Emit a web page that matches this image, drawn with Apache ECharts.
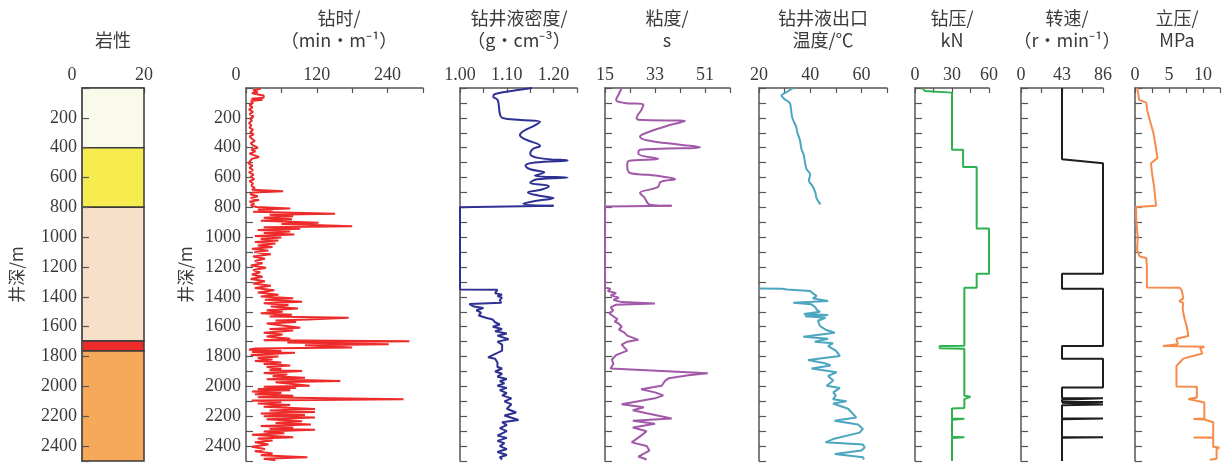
<!DOCTYPE html>
<html><head><meta charset="utf-8">
<script src="https://cdn.jsdelivr.net/npm/echarts@6.0.0/dist/echarts.min.js"></script>
<style>html,body{margin:0;padding:0;background:#fff}#c{width:1224px;height:465px}</style>
</head><body><div id="c"></div>
<script>
// ---------------- data ----------------
const depthTicks = [200,400,600,800,1000,1200,1400,1600,1800,2000,2200,2400];
const lithTicks = [0,20];
const ropTicks = [0,120,240];
const densTicks = [1.00,1.10,1.20];
const viscTicks = [15,33,51];
const tempTicks = [20,40,60];
const wobTicks = [0,30,60];
const rpmTicks = [0,43,86];
const sppTicks = [0,5,10];

const lithTop = [0,400,800,1695,1762];
const lithBottom = [400,800,1695,1762,2500];

// [value, depth]
const ropData = [
[25,5],[12,15],[20,25],[10,35],[30,50],[27,58],[30,66],[9,72],[28,78],[8,88],[12,100],[6,115],[11,130],[5,145],[12,160],[6,175],[13,190],[7,205],[10,220],[5,235],[9,250],[6,265],[12,280],[7,295],[13,310],[6,325],[10,340],[15,355],[8,370],[12,385],[20,400],[9,412],[16,425],[6,440],[22,462],[10,475],[7,490],[4,505],[11,520],[6,535],[12,550],[5,565],[13,580],[8,595],[14,610],[6,625],[12,640],[9,655],[15,670],[10,682],[63,692],[12,700],[7,712],[20,725],[8,738],[22,750],[6,762],[14,775],[8,788],[18,798],
[75,808],[20,815],[45,822],[12,830],[151,842],[40,850],[80,860],[30,870],[78,880],[25,890],[123,903],[60,912],[180,927],[30,934],[92,944],[20,952],[75,962],[30,972],[82,982],[15,992],[60,1002],[25,1012],[55,1022],[15,1032],[50,1042],[20,1055],[45,1065],[10,1077],[38,1090],[14,1100],[42,1115],[12,1130],[32,1145],[15,1160],[28,1175],[8,1190],[34,1205],[12,1220],[24,1235],[10,1250],[28,1265],[8,1280],[32,1295],[12,1310],[42,1325],[15,1340],[48,1355],[20,1370],[55,1385],[25,1398],
[80,1410],[32,1420],[95,1432],[30,1442],[72,1455],[42,1465],[88,1478],[35,1490],[62,1500],[25,1510],[78,1520],[40,1532],[174,1540],[105,1551],[50,1558],[85,1568],[35,1578],[92,1607],[40,1615],[80,1625],[30,1640],[62,1652],[35,1665],[75,1680],[30,1690],[277,1697],[70,1706],[242,1717],[100,1724],[180,1740],[15,1746],
[5,1755],[60,1762],[10,1770],[83,1775],[8,1790],[55,1800],[20,1810],[45,1820],[15,1830],[60,1840],[30,1850],[75,1860],[35,1870],[60,1882],[40,1890],[95,1897],[30,1910],[70,1920],[45,1932],[100,1942],[35,1952],[160,1963],[50,1972],[108,1996],[30,2002],[85,2010],[20,2018],[75,2026],[10,2035],[60,2044],[15,2052],[80,2062],[20,2072],[267,2086],[10,2094],[60,2104],[20,2114],[75,2124],[30,2136],[117,2152],[40,2162],[117,2172],[25,2182],[100,2192],[30,2200],[117,2208],[35,2220],[95,2234],[50,2245],[110,2256],[25,2266],[80,2276],[40,2285],[117,2290],[30,2302],[65,2314],[10,2324],[80,2340],[20,2350],[45,2362],[15,2375],[38,2390],[10,2405],[32,2420],[15,2435],[45,2450],[25,2462],[104,2475],[30,2485],[50,2495]
];

const densUpper = [[1.154,0],[1.12,15],[1.075,40],[1.071,58],[1.08,78],[1.083,120],[1.085,170],[1.09,200],[1.13,214],[1.171,226],[1.16,250],[1.135,290],[1.128,315],[1.14,345],[1.171,388],[1.155,410],[1.15,440],[1.17,470],[1.23,486],[1.16,500],[1.14,520],[1.15,545],[1.18,565],[1.16,588],[1.23,600],[1.165,612],[1.15,635],[1.19,658],[1.175,680],[1.145,700],[1.17,722],[1.20,738],[1.16,758],[1.135,775],[1.20,790]];
const densLower = [[1.20,790],[1.00,800],[1.00,1350],[1.08,1352],[1.082,1360],[1.075,1375],[1.09,1385],[1.08,1395],[1.09,1405],[1.085,1420],[1.088,1440],[1.02,1448],[1.03,1465],[1.05,1475],[1.035,1490],[1.045,1505],[1.04,1525],[1.055,1540],[1.07,1552],[1.075,1570],[1.085,1585],[1.07,1600],[1.09,1615],[1.075,1630],[1.10,1645],[1.08,1660],[1.104,1684],[1.08,1700],[1.09,1720],[1.09,1760],[1.06,1805],[1.075,1815],[1.08,1840],[1.08,1870],[1.09,1880],[1.075,1900],[1.09,1915],[1.08,1935],[1.10,1950],[1.085,1965],[1.095,1980],[1.08,1995],[1.10,2010],[1.085,2025],[1.10,2045],[1.09,2060],[1.11,2080],[1.095,2100],[1.11,2120],[1.10,2150],[1.12,2175],[1.095,2195],[1.11,2210],[1.125,2225],[1.09,2240],[1.10,2260],[1.085,2280],[1.10,2300],[1.08,2330],[1.10,2345],[1.08,2365],[1.095,2380],[1.085,2400],[1.10,2420],[1.08,2440],[1.10,2460],[1.085,2475],[1.09,2490]];

const viscUpper = [[21,0],[20,40],[19,80],[22,100],[28.8,112],[28,150],[26.4,200],[27,213],[43.8,222],[38,250],[30,300],[27.6,325],[30,350],[42,380],[49.2,397],[35,407],[27.6,414],[27,440],[34.2,475],[23.4,490],[23,520],[24,570],[30.6,582],[36,595],[40.2,611],[35,630],[34,665],[27.6,704],[29,730],[31.2,782],[39,790]];
const viscLower = [[39,790],[15,795],[15,1338],[17,1345],[16,1360],[19,1375],[17,1390],[20,1405],[18,1420],[21,1435],[33,1445],[19,1452],[17,1470],[18,1490],[16.5,1510],[18,1530],[19.5,1550],[18.5,1565],[20,1580],[21,1600],[20,1620],[22,1640],[23,1660],[27,1688],[23,1700],[21,1720],[22,1740],[23,1760],[19,1790],[17.5,1820],[18,1850],[17,1880],[28,1890],[52,1912],[45,1925],[38,1945],[36.6,1963],[35.4,1996],[28,2019],[33,2040],[36,2060],[33,2080],[21,2119],[29,2140],[25,2160],[30,2180],[39,2215],[25,2230],[33,2250],[25,2275],[30,2300],[28,2330],[24.6,2375],[30,2400],[31,2430],[27,2470],[30,2490]];

const tempUpper = [[33.4,0],[31,25],[28.8,50],[30,75],[32,100],[32.5,140],[33,200],[34.5,260],[35,300],[36,350],[36.6,410],[37.5,450],[38,500],[38.5,540],[40,580],[39.5,620],[41,660],[42,700],[42.5,740],[44,780]];
const tempLower = [[20,1344],[29,1345],[31,1350],[40,1360],[41,1375],[42.5,1395],[41,1410],[47,1428],[33.4,1440],[40.5,1450],[42,1470],[42.5,1485],[43.8,1500],[37.5,1515],[47,1522],[38,1530],[46,1540],[43,1560],[43.8,1595],[46,1620],[49.6,1640],[37.3,1667],[47,1680],[41.8,1700],[48.9,1710],[47,1730],[50,1760],[51.6,1796],[39.2,1823],[45.7,1845],[48,1860],[40.5,1880],[50.3,1905],[47,1930],[49,1960],[46.4,1996],[51.6,2010],[49,2040],[50,2060],[48.9,2086],[54.2,2100],[48.9,2115],[54.8,2150],[58,2208],[49.5,2230],[58.7,2255],[60.6,2285],[59.3,2310],[48.9,2353],[46,2375],[60.6,2390],[61.3,2410],[60,2430],[49.6,2453],[60.6,2475],[61,2490]];

const wobData = [[6,0],[8,20],[30,31],[30,414],[39,414],[39,530],[50,530],[50,942],[60,942],[60,1245],[50,1245],[50,1339],[40,1339],[40,1728],[20,1730],[20,1745],[40,1747],[40,2063],[45,2070],[45,2080],[40,2085],[40,2145],[30,2148],[30,2215],[40,2217],[40,2222],[30,2224],[30,2338],[40,2340],[40,2344],[30,2346],[30,2500]];

const rpmData = [[43,0],[43,477],[86,504],[86,1245],[43,1245],[43,1346],[86,1346],[86,1729],[43,1729],[43,1814],[86,1814],[86,2007],[43,2007],[43,2080],[86,2080],[86,2090],[43,2090],[43,2105],[86,2105],[86,2110],[43,2110],[43,2122],[86,2122],[86,2126],[43,2126],[43,2215],[86,2215],[86,2220],[43,2220],[43,2340],[86,2340],[86,2344],[43,2344],[43,2500]];

const sppData = [[0.3,0],[0.5,40],[0.6,80],[1.65,98],[1.8,150],[2.2,220],[2.7,300],[3.0,380],[3.3,470],[2.35,504],[2.5,570],[2.8,660],[3.1,789],[0.15,797],[0.2,900],[0.4,1000],[0.3,1083],[0.7,1130],[1.65,1139],[1.75,1200],[1.75,1337],[6.6,1339],[6.9,1360],[7.1,1410],[6.5,1428],[7.1,1440],[7.0,1480],[7.3,1550],[7.6,1595],[7.85,1662],[6.1,1680],[6.3,1718],[4.1,1729],[10.2,1735],[9.6,1745],[9.9,1780],[7.1,1814],[6.1,1863],[6.1,2001],[9.1,2003],[9.1,2075],[7.85,2085],[10.2,2108],[10.2,2215],[8.6,2218],[10.2,2222],[11.5,2240],[11.5,2340],[8.6,2342],[11.5,2345],[11.5,2405],[12.4,2410],[12.0,2420],[12.0,2485],[11.0,2492]];

// ---------------- styling / layout ----------------
const lithColors = ['#fafaea','#f6eb4f','#f8dfc9','#ee2b2b','#f7a95a'];
const TXT = '#3a3a3a', AX = '#555';
const NUMFONT = "'Liberation Serif', 'DejaVu Serif', 'Times New Roman', serif";
const CJK = "'Noto Sans CJK SC', sans-serif";
const GTOP = 88, GHEIGHT = 373;

const panels = [
  {left:82,  width:62,  min:0,   max:20,   interval:20,  ticks:lithTicks, off:0,  dec:0, shift:true, yLab:true, yInt:200, nameGap:57},
  {left:246, width:177, min:0,   max:300,  interval:60,  ticks:ropTicks,  off:0,  dec:0, shift:true, yLab:true, yInt:100, nameGap:52},
  {left:460, width:117, min:1.0, max:1.25, interval:0.05,ticks:densTicks, off:0,  dec:2},
  {left:605, width:125, min:0,   max:45,   interval:9,   ticks:viscTicks, off:15, dec:0},
  {left:759, width:128, min:20,  max:70,   interval:10,  ticks:tempTicks, off:0,  dec:0},
  {left:915, width:74,  min:0,   max:60,   interval:15,  ticks:wobTicks,  off:0,  dec:0},
  {left:1021,width:82,  min:0,   max:86,   interval:21.5,ticks:rpmTicks,  off:0,  dec:0},
  {left:1135,width:85,  min:0,   max:12.5, interval:2.5, ticks:sppTicks,  off:0,  dec:0}
];

const titles = [
  [113, 29, '岩性'],
  [339, 7, '钻时/\n（min•m⁻¹）'],
  [519, 7, '钻井液密度/\n（g•cm⁻³）'],
  [667, 7, '粘度/\ns'],
  [823, 7, '钻井液出口\n温度/℃'],
  [952, 7, '钻压/\nkN'],
  [1067, 7, '转速/\n（r•min⁻¹）'],
  [1177, 7, '立压/\nMPa']
];

const grid = [], xAxis = [], yAxis = [];
panels.forEach((p, i) => {
  grid.push({left:p.left, top:GTOP, width:p.width, height:GHEIGHT, containLabel:false});
  xAxis.push({
    type:'value', gridIndex:i, position:'top', min:p.min, max:p.max, interval:p.interval,
    axisLine:{show:true, onZero:false, lineStyle:{color:AX, width:1.5}},
    axisTick:{show:true, inside:true, length:5, lineStyle:{color:AX, width:1.2}},
    splitLine:{show:false},
    axisLabel:{
      show:true, margin:4, color:TXT, fontSize:18, fontFamily:NUMFONT,
      formatter:(v) => {
        const dv = v + p.off;
        if (!p.ticks.some(t => Math.abs(t - dv) < 1e-6)) return '';
        const s = dv.toFixed(p.dec);
        if (p.shift && Math.abs(dv) < 1e-9) return '{z|' + s + '}';
        return s;
      },
      rich:{z:{padding:[0,20,0,0], fontSize:18, fontFamily:NUMFONT, color:TXT}}
    }
  });
  yAxis.push({
    type:'value', gridIndex:i, inverse:true, min:0, max:2500, interval:p.yInt || 100,
    z: i === 0 ? 6 : 0,
    name: p.yLab ? '井深/m' : '', nameLocation:'middle', nameGap:p.nameGap || 0,
    nameTextStyle:{color:TXT, fontSize:17, fontFamily:CJK},
    axisLine:{show:true, onZero:false, lineStyle:{color:AX, width:1.5}},
    axisTick:{show:true, inside:true, length:7, lineStyle:{color:AX, width:1.2}},
    splitLine:{show:false},
    axisLabel:{
      show: !!p.yLab, margin:5, color:TXT, fontSize:18, fontFamily:NUMFONT,
      formatter:(v) => depthTicks.indexOf(v) >= 0 ? String(v) : ''
    }
  });
});

function line(idx, data, color, width, smooth) {
  return {type:'line', xAxisIndex:idx, yAxisIndex:idx, data:data, showSymbol:false, symbol:'none',
    smooth:smooth || false, lineStyle:{color:color, width:width}, itemStyle:{color:color},
    animation:false, silent:true, z:3};
}

const lithData = lithTop.map((t, k) => [t, lithBottom[k]]);

const series = [
  {
    type:'custom', xAxisIndex:0, yAxisIndex:0, data:lithData, encode:{y:[0,1]}, animation:false, silent:true, z:2,
    renderItem:(params, api) => {
      const p1 = api.coord([0, api.value(0)]);
      const p2 = api.coord([20, api.value(1)]);
      return {type:'rect', shape:{x:p1[0], y:p1[1], width:p2[0]-p1[0], height:p2[1]-p1[1]},
        style:{fill:lithColors[params.dataIndex], stroke:'#3a3a3a', lineWidth:1.5}};
    }
  },
  line(1, ropData, '#ee2b2b', 2),
  line(2, densUpper, '#2e3192', 2, 0.4),
  line(2, densLower, '#2e3192', 2),
  line(3, viscUpper.map(d => [d[0]-15, d[1]]), '#a25aa8', 2, 0.4),
  line(3, viscLower.map(d => [d[0]-15, d[1]]), '#a25aa8', 2),
  line(4, tempUpper, '#4ca6c0', 2, 0.3),
  line(4, tempLower, '#4ca6c0', 2),
  line(5, wobData, '#2db24f', 2),
  line(6, rpmData, '#1e1e1e', 2),
  line(7, sppData, '#f58b4c', 2)
];

const graphic = titles.map(t => ({
  type:'text', x:t[0], y:t[1], silent:true,
  style:{text:t[2], fill:TXT, fontSize:18, fontFamily:CJK, lineHeight:22, align:'center', verticalAlign:'top'}
}));

const chart = echarts.init(document.getElementById('c'), null, {renderer:'canvas'});
chart.setOption({backgroundColor:'#ffffff', animation:false, grid, xAxis, yAxis, series, graphic});
</script></body></html>
